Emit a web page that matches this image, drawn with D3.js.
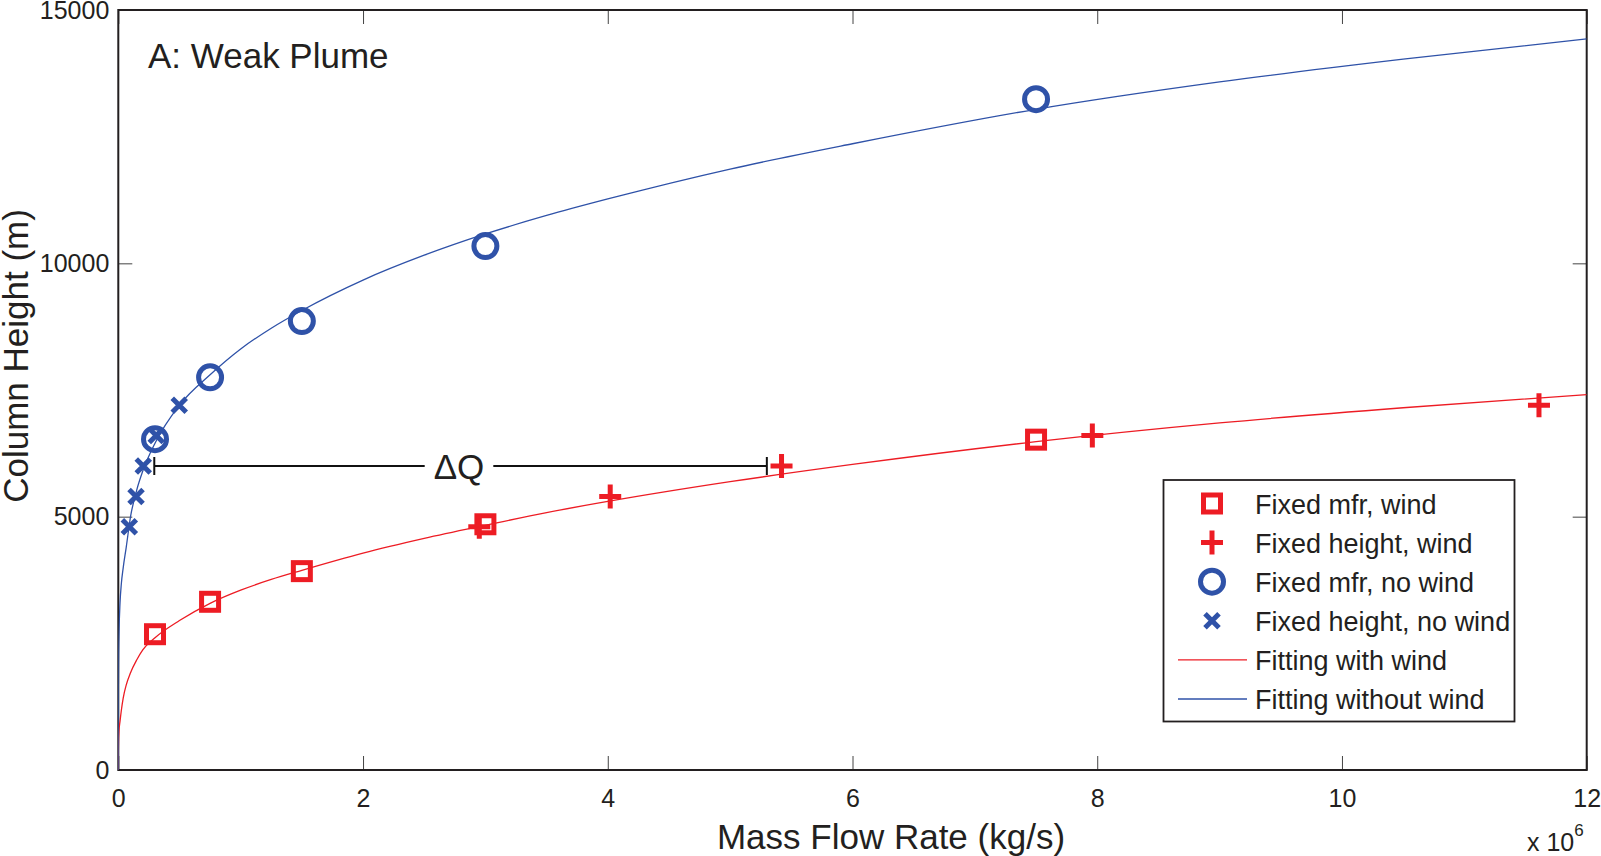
<!DOCTYPE html>
<html>
<head>
<meta charset="utf-8" />
<title>Weak Plume</title>
<script src="https://d3js.org/d3.v7.min.js"></script>
<style>
  body { margin: 0; background: #fff; }
  svg text { font-family: "Liberation Sans", Arial, sans-serif; fill: #231f20; }
  .tick line { stroke: #444; stroke-width: 1; }
  .domain { display: none; }
</style>
</head>
<body>
<svg id="chart"></svg>
<script>
// mass flow rate in 10^6 kg/s, heights in m
var mfrX = [0.3, 0.75, 1.5, 3, 7.5];
var mfrWind = [2680, 3320, 3925, 4850, 6520];
var mfrNoWind = [6530, 7750, 8860, 10340, 13240];

var fixedHeights = [4800, 5400, 6000, 6600, 7200];
var heightWindX = [2.95, 4.02, 5.42, 7.96, 11.61];
var heightNoWindX = [0.09, 0.145, 0.204, 0.31, 0.498];

// fitted curves
var fitX = [0, 0.0005, 0.002, 0.006, 0.014, 0.025, 0.04, 0.065, 0.1, 0.15, 0.2, 0.3, 0.5, 0.75, 1, 1.25, 1.5, 2, 2.5, 3, 3.5, 4, 5, 6, 7.5, 9, 10.5, 12];
var fitWind = [0, 350, 560, 780, 960, 1180, 1420, 1680, 1920, 2170, 2370, 2610, 2950, 3290, 3550, 3760, 3940, 4280, 4570, 4830, 5080, 5300, 5690, 6030, 6480, 6850, 7150, 7410];
var fitNoWind = [0, 1580, 2150, 2730, 3290, 3680, 3990, 4400, 5000, 5520, 5900, 6450, 7200, 7800, 8310, 8720, 9070, 9670, 10160, 10580, 10945, 11270, 11860, 12360, 13040, 13580, 14030, 14430];

var xTicks = [0, 2, 4, 6, 8, 10, 12];
var yTicks = [0, 5000, 10000, 15000];

var deltaQ = {x0: 0.294, x1: 5.3, h: 6000};

var legendLabels = ["Fixed mfr, wind", "Fixed height, wind", "Fixed mfr, no wind",
                    "Fixed height, no wind", "Fitting with wind", "Fitting without wind"];

var red = "#ed1c24", blue = "#2f52a8";
var width = 1601, height = 856;
var m = {left: 118.3, right: 1586.7, top: 10, bottom: 770};

var svg = d3.select("#chart").attr("width", width).attr("height", height);

var x = d3.scaleLinear().domain([0, 12]).range([m.left, m.right]);
var y = d3.scaleLinear().domain([0, 15000]).range([m.bottom, m.top]);

svg.append("defs").append("clipPath").attr("id", "plot")
  .append("rect").attr("x", m.left).attr("y", m.top)
  .attr("width", m.right - m.left).attr("height", m.bottom - m.top);

// axes, ticks pointing inward
svg.append("g").attr("transform", "translate(0," + m.bottom + ")")
  .call(d3.axisBottom(x).tickValues(xTicks).tickSize(-14).tickSizeOuter(0).tickPadding(19))
  .selectAll("text").style("font-size", "25px");
svg.append("g").attr("transform", "translate(0," + m.top + ")")
  .call(d3.axisTop(x).tickValues(xTicks).tickSize(-14).tickSizeOuter(0).tickFormat(""));
svg.append("g").attr("transform", "translate(" + m.left + ",0)")
  .call(d3.axisLeft(y).tickValues(yTicks).tickSize(-14).tickSizeOuter(0).tickPadding(9).tickFormat(d3.format("d")))
  .selectAll("text").style("font-size", "25px");
svg.append("g").attr("transform", "translate(" + m.right + ",0)")
  .call(d3.axisRight(y).tickValues(yTicks).tickSize(-14).tickSizeOuter(0).tickFormat(""));
svg.selectAll(".tick text").attr("fill", "#231f20");

svg.append("rect")
  .attr("x", m.left).attr("y", m.top)
  .attr("width", m.right - m.left).attr("height", m.bottom - m.top)
  .attr("fill", "none").attr("stroke", "#231f20").attr("stroke-width", 2);

// labels
svg.append("text").attr("x", 891).attr("y", 849).attr("text-anchor", "middle")
  .style("font-size", "35px").text("Mass Flow Rate (kg/s)");
svg.append("text").attr("transform", "translate(28,356) rotate(-90)").attr("text-anchor", "middle")
  .style("font-size", "35px").text("Column Height (m)");
var mult = svg.append("text").attr("x", 1527).attr("y", 851).style("font-size", "25px").text("x 10");
mult.append("tspan").attr("dy", -15).style("font-size", "17px").text("6");
svg.append("text").attr("x", 148).attr("y", 68).style("font-size", "35px").text("A: Weak Plume");

// marker shapes
function square(g, s) {
  g.append("rect").attr("x", -8.5).attr("y", -8.5).attr("width", 17).attr("height", 17)
    .attr("fill", "none").attr("stroke", s).attr("stroke-width", 5);
}
function plus(g, s) {
  g.append("path").attr("d", "M-11,0H11M0,-12V12").attr("stroke", s).attr("stroke-width", 5);
}
function circle(g, s) {
  g.append("circle").attr("r", 11.5).attr("fill", "none").attr("stroke", s).attr("stroke-width", 5);
}
function cross(g, s) {
  g.append("path").attr("d", "M-7,-7L7,7M-7,7L7,-7").attr("stroke", s).attr("stroke-width", 5);
}

function drawPoints(xs, ys, shape, colour) {
  svg.append("g").selectAll("g").data(xs).enter().append("g")
    .attr("transform", function(d, i) { return "translate(" + x(d) + "," + y(ys[i]) + ")"; })
    .each(function() { shape(d3.select(this), colour); });
}

drawPoints(mfrX, mfrWind, square, red);
drawPoints(heightWindX, fixedHeights, plus, red);
drawPoints(mfrX, mfrNoWind, circle, blue);
drawPoints(heightNoWindX, fixedHeights, cross, blue);

// fitted curves
var line = d3.line().curve(d3.curveMonotoneX)
  .x(function(d) { return x(d[0]); })
  .y(function(d) { return y(d[1]); });

svg.append("path").attr("clip-path", "url(#plot)")
  .attr("d", line(d3.zip(fitX, fitWind)))
  .attr("fill", "none").attr("stroke", red).attr("stroke-width", 1.3);
svg.append("path").attr("clip-path", "url(#plot)")
  .attr("d", line(d3.zip(fitX, fitNoWind)))
  .attr("fill", "none").attr("stroke", blue).attr("stroke-width", 1.3);

// delta Q bracket
var dq = svg.append("g");
var dqLines = dq.append("g").attr("stroke", "#111").attr("stroke-width", 2);
dqLines.append("line").attr("x1", x(deltaQ.x0)).attr("x2", x(deltaQ.x1))
  .attr("y1", y(deltaQ.h)).attr("y2", y(deltaQ.h));
dqLines.append("line").attr("x1", x(deltaQ.x0)).attr("x2", x(deltaQ.x0))
  .attr("y1", y(deltaQ.h) - 9).attr("y2", y(deltaQ.h) + 9);
dqLines.append("line").attr("x1", x(deltaQ.x1)).attr("x2", x(deltaQ.x1))
  .attr("y1", y(deltaQ.h) - 9).attr("y2", y(deltaQ.h) + 9);
var dqText = dq.append("text").attr("x", 459).attr("y", y(deltaQ.h) + 13)
  .attr("text-anchor", "middle").style("font-size", "35px").text("ΔQ");
var bb = dqText.node().getBBox();
dq.insert("rect", "text")
  .attr("x", bb.x - 9).attr("y", y(deltaQ.h) - 3).attr("width", bb.width + 18).attr("height", 6)
  .attr("fill", "#fff");

// legend
var lg = svg.append("g");
lg.append("rect").attr("x", 1163.5).attr("y", 480).attr("width", 351).attr("height", 241.5)
  .attr("fill", "#fff").attr("stroke", "#231f20").attr("stroke-width", 1.8);
var shapes = [square, plus, circle, cross];
var colours = [red, red, blue, blue, red, blue];
legendLabels.forEach(function(label, i) {
  var cy = 503.5 + i * 39.1;
  if (i < 4) {
    var g = lg.append("g").attr("transform", "translate(1212," + cy + ")");
    shapes[i](g, colours[i]);
  } else {
    lg.append("line").attr("x1", 1178).attr("x2", 1247).attr("y1", cy).attr("y2", cy)
      .attr("stroke", colours[i]).attr("stroke-width", 1.3);
  }
  lg.append("text").attr("x", 1255).attr("y", cy + 10).style("font-size", "27px").text(label);
});
</script>
</body>
</html>
